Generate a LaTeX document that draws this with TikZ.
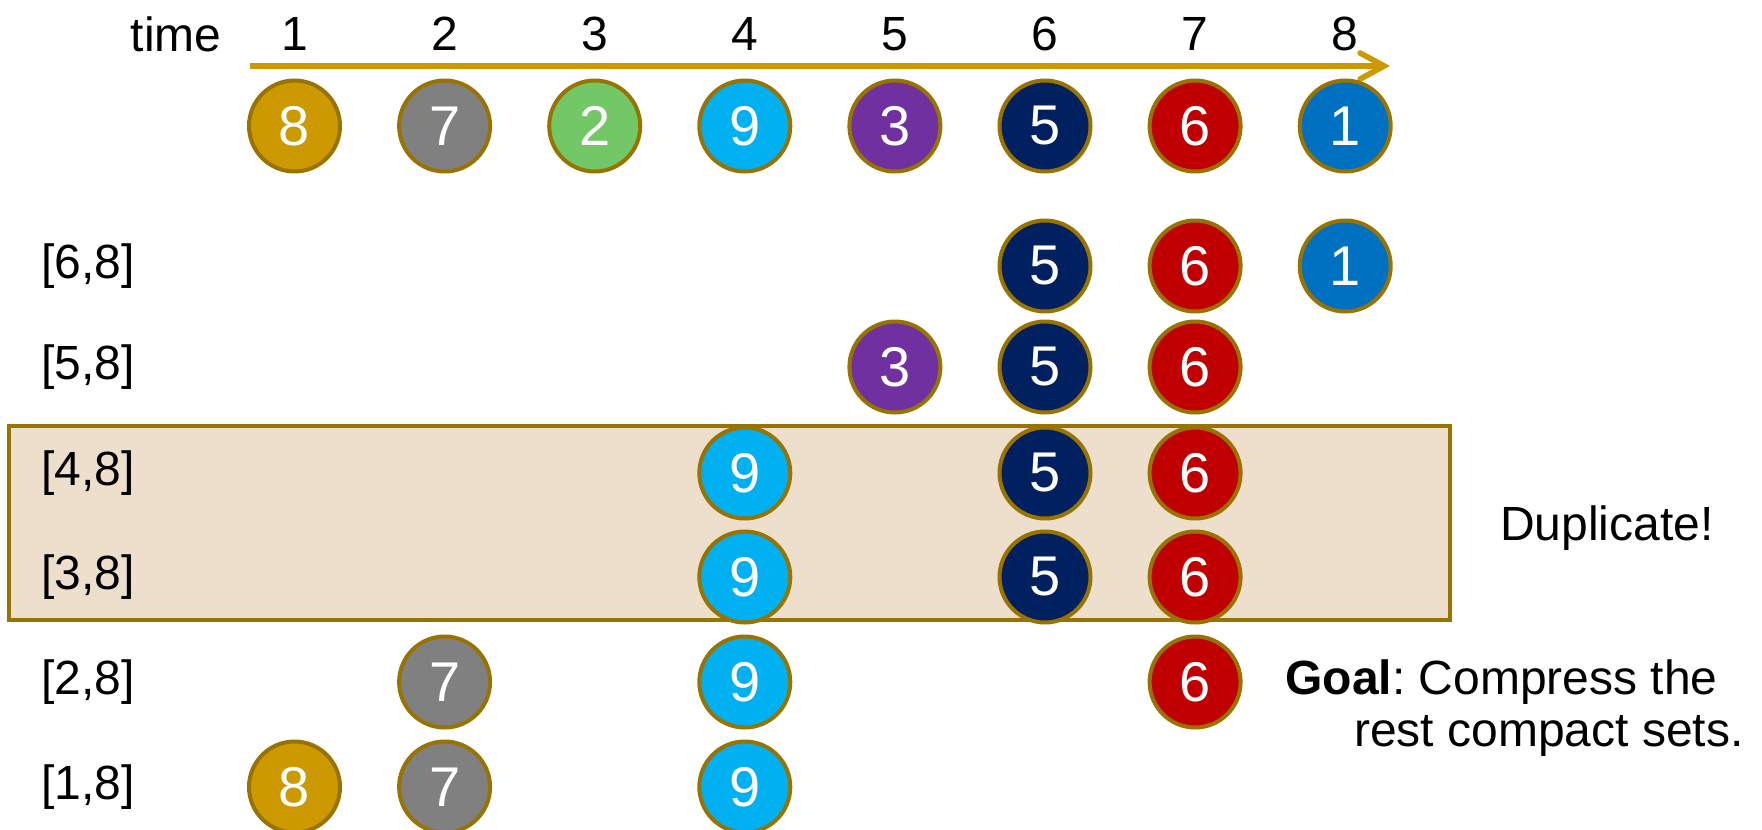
\documentclass[tikz,border=0pt]{standalone}
\usepackage{fontspec}
\setmainfont{Liberation Sans}
\usetikzlibrary{arrows.meta}
\frenchspacing
\definecolor{rim}{HTML}{997300}
\definecolor{axisgold}{HTML}{CC9900}
\definecolor{boxfill}{HTML}{EDDFCC}
\definecolor{n8}{HTML}{CC9900}
\definecolor{n7}{HTML}{808080}
\definecolor{n2}{HTML}{72C766}
\definecolor{n9}{HTML}{00B0F0}
\definecolor{n3}{HTML}{7030A0}
\definecolor{n5}{HTML}{002060}
\definecolor{n6}{HTML}{C00000}
\definecolor{n1}{HTML}{0070C0}
\begin{document}
\begin{tikzpicture}[x=0.5pt,y=-0.5pt,
  ball/.style={circle,draw=rim,line width=2pt,minimum size=45.5pt,inner sep=0pt,
    text=white,font=\fontsize{28}{30}\selectfont},
  lbl/.style={font=\fontsize{24}{28}\selectfont,inner sep=0pt},
  dupbox/.style={draw=rim,fill=boxfill,line width=2pt},
  timeaxis/.style={draw=axisgold,line width=2.8pt,
    -{Straight Barb[length=12pt,width=13pt,line cap=round]}}]
\useasboundingbox (0,0) rectangle (1762,830);
\clip (0,0) rectangle (1762,830);
% highlight box
\draw[dupbox] (9,426) rectangle (1450,620);
% time axis
\node[lbl,anchor=east] (time) at (222,34) {time};
\foreach \k [evaluate=\k as \xx using {294.5+(\k-1)*150.1}] in {1,...,8}
  \node[lbl] (t\k) at (\xx,34) {\k};
\coordinate (as) at (250,66);
\coordinate (ae) at (1390,66);
\draw[timeaxis] (as) -- (ae);
% row labels
\node[lbl,anchor=west] (r6) at (41,266) {[6,8]};
\node[lbl,anchor=west] (r5) at (41,367) {[5,8]};
\node[lbl,anchor=west] (r4) at (41,473) {[4,8]};
\node[lbl,anchor=west] (r3) at (41,577) {[3,8]};
\node[lbl,anchor=west] (r2) at (41,682) {[2,8]};
\node[lbl,anchor=west] (r1) at (41,787) {[1,8]};
% balls: number / column / y / name
\foreach \n/\c/\r/\name in {
  8/1/126/top1, 7/2/126/top2, 2/3/126/top3, 9/4/126/top4,
  3/5/126/top5, 5/6/126/top6, 6/7/126/top7, 1/8/126/top8,
  5/6/266/a6, 6/7/266/a7, 1/8/266/a8,
  3/5/367/b5, 5/6/367/b6, 6/7/367/b7,
  9/4/473/c4, 5/6/473/c6, 6/7/473/c7,
  9/4/577/d4, 5/6/577/d6, 6/7/577/d7,
  7/2/682/e2, 9/4/682/e4, 6/7/682/e7,
  8/1/787/f1, 7/2/787/f2, 9/4/787/f4}
  \node[ball,fill=n\n] (\name) at ({294.5+(\c-1)*150.1},\r) {\n};
% side notes
\node[lbl] (dup) at (1607,528) {Duplicate!};
\node[lbl,align=right,anchor=east,font=\fontsize{24}{26}\selectfont] (goal) at (1744,708)
  {\textbf{Goal}: Compress the\hspace*{13pt}\\rest compact sets.};
\end{tikzpicture}
\end{document}
